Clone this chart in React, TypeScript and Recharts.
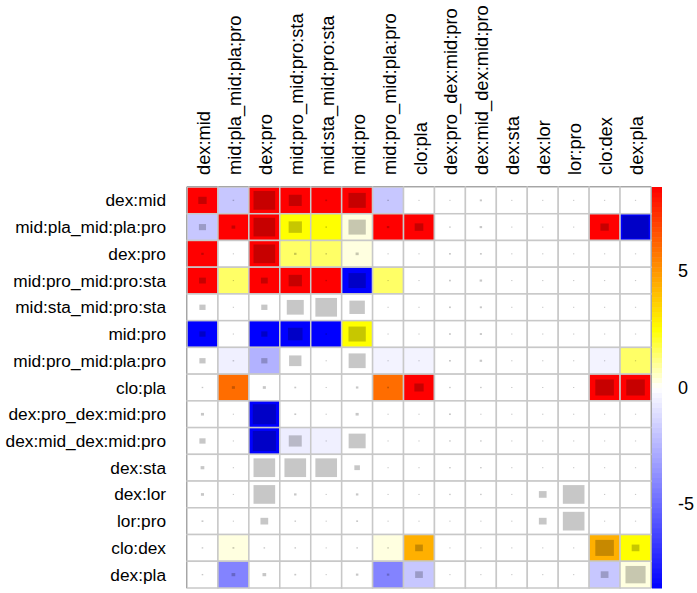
import React from 'react';
import { ScatterChart, Scatter, XAxis, YAxis } from 'recharts';

// row / column labels of the interaction matrix
const rowLabels = [
  'dex:mid', 'mid:pla_mid:pla:pro', 'dex:pro', 'mid:pro_mid:pro:sta', 'mid:sta_mid:pro:sta',
  'mid:pro', 'mid:pro_mid:pla:pro', 'clo:pla', 'dex:pro_dex:mid:pro', 'dex:mid_dex:mid:pro',
  'dex:sta', 'dex:lor', 'lor:pro', 'clo:dex', 'dex:pla',
];
const colLabels = rowLabels;

// effect per cell (colour), clipped at +/- 8.6
const cellValue: number[][] = [
  [9, -1.9, 9, 9, 9, 9, -1.9, 0, 0, 0, 0, 0, 0, 0, 0],
  [-1.9, 9, 9, 2.5, 2.5, 0.3, 9, 9, 0, 0, 0, 0, 0, 9, -9],
  [9, 0, 9, 1.5, 1.5, 0.3, 0, 0, 0, 0, 0, 0, 0, 0, 0],
  [9, 1.5, 9, 9, 9, -9, 1.5, 0, 0, 0, 0, 0, 0, 0, 0],
  [0, 0, 0, 0, 0, 0, 0, 0, 0, 0, 0, 0, 0, 0, 0],
  [-9, 0, -9, -9, -9, 2.5, 0, 0, 0, 0, 0, 0, 0, 0, 0],
  [0, -0.5, -2.6, 0, 0, 0, -0.4, -0.4, 0, 0, 0, 0, 0, -0.4, 1.5],
  [0, 6, 0, 0, 0, 0, 6, 9, 0, 0, 0, 0, 0, 9, 9],
  [0, 0, -9, 0, 0, 0, 0, 0, 0, 0, 0, 0, 0, 0, 0],
  [0, 0, -9, -0.6, -0.5, 0, 0, 0, 0, 0, 0, 0, 0, 0, 0],
  [0, 0, 0, 0, 0, 0, 0, 0, 0, 0, 0, 0, 0, 0, 0],
  [0, 0, 0, 0, 0, 0, 0, 0, 0, 0, 0, 0, 0, 0, 0],
  [0, 0, 0, 0, 0, 0, 0, 0, 0, 0, 0, 0, 0, 0, 0],
  [0, 0.3, 0, 0, 0, 0, 0.3, 4.4, 0, 0, 0, 0, 0, 4.4, 2.5],
  [0, -4.2, 0, 0, 0, 0, -4.2, -1.9, 0, 0, 0, 0, 0, -1.9, 0.3],
];

// relative size of the inner grey square
const cellSize: number[][] = [
  [0.27, 0.05, 0.7, 0.42, 0.06, 0.56, 0.05, 0.04, 0.04, 0.07, 0.04, 0.04, 0.04, 0.04, 0.04],
  [0.23, 0.12, 0.7, 0.43, 0.05, 0.56, 0.08, 0.28, 0.05, 0.08, 0.04, 0.04, 0.04, 0.27, 0.85],
  [0.08, 0.04, 0.7, 0.08, 0.05, 0.1, 0.04, 0.04, 0.06, 0.06, 0.04, 0.04, 0.04, 0.04, 0.04],
  [0.22, 0.04, 0.22, 0.43, 0.05, 0.56, 0.04, 0.04, 0.06, 0.08, 0.04, 0.04, 0.04, 0.04, 0.04],
  [0.2, 0.04, 0.2, 0.55, 0.7, 0.5, 0.04, 0.04, 0.06, 0.07, 0.04, 0.04, 0.04, 0.04, 0.04],
  [0.2, 0.04, 0.2, 0.47, 0.05, 0.56, 0.04, 0.04, 0.06, 0.07, 0.04, 0.04, 0.04, 0.04, 0.04],
  [0.2, 0.05, 0.2, 0.4, 0.04, 0.55, 0.04, 0.04, 0.06, 0.08, 0.04, 0.04, 0.04, 0.04, 0.04],
  [0.05, 0.1, 0.1, 0.06, 0.04, 0.08, 0.06, 0.3, 0.05, 0.05, 0.04, 0.04, 0.04, 0.6, 0.6],
  [0.1, 0.04, 0.75, 0.06, 0.04, 0.1, 0.04, 0.04, 0.06, 0.04, 0.04, 0.04, 0.04, 0.04, 0.04],
  [0.2, 0.04, 0.75, 0.42, 0.04, 0.55, 0.04, 0.04, 0.05, 0.05, 0.04, 0.04, 0.04, 0.04, 0.04],
  [0.12, 0.04, 0.7, 0.7, 0.7, 0.18, 0.04, 0.04, 0.05, 0.05, 0.04, 0.04, 0.04, 0.04, 0.04],
  [0.1, 0.04, 0.7, 0.08, 0.04, 0.08, 0.04, 0.04, 0.05, 0.05, 0.04, 0.25, 0.7, 0.04, 0.04],
  [0.06, 0.04, 0.25, 0.05, 0.04, 0.06, 0.04, 0.04, 0.04, 0.04, 0.04, 0.25, 0.7, 0.04, 0.04],
  [0.05, 0.06, 0.05, 0.05, 0.04, 0.05, 0.05, 0.25, 0.04, 0.04, 0.04, 0.04, 0.04, 0.6, 0.25],
  [0.05, 0.12, 0.12, 0.06, 0.04, 0.08, 0.08, 0.25, 0.04, 0.04, 0.04, 0.04, 0.04, 0.25, 0.65],
];

const colorTicks = [-5, 0, 5];
const VMAX = 8.62;

const W = 697;
const H = 593;
const PLOT = { left: 187, top: 187, right: 651, bottom: 588 };
const CW = (PLOT.right - PLOT.left) / 15;
const CH = (PLOT.bottom - PLOT.top) / 15;
const FONT = '"Liberation Sans", Arial, sans-serif';

const heatColor = (v: number) => {
  if (v >= 0) {
    if (v <= 2.5) {
      const t = v / 2.5;
      return `rgb(255,255,${Math.round(255 * (1 - t))})`;
    }
    const t = Math.min((v - 2.5) / (VMAX - 2.5), 1);
    return `rgb(255,${Math.round(255 * (1 - t))},0)`;
  }
  const t = Math.min(-v / VMAX, 1);
  const c = Math.round(255 * (1 - t));
  return `rgb(${c},${c},255)`;
};

const cells = rowLabels.flatMap((_, r) =>
  colLabels.map((__, c) => ({ x: c, y: r, v: cellValue[r][c], s: cellSize[r][c] }))
);

// invisible anchor points so the colour-bar axis is drawn
const barAnchors = colorTicks.map((t) => ({ x: 0, cb: t }));

const idx = rowLabels.map((_, i) => i);

const HeatCell = (props: any) => {
  const { cx, cy, payload } = props;
  if (cx == null || cy == null) return null;
  const w = CW * payload.s;
  const h = CH * payload.s;
  return (
    <g>
      <rect x={cx - CW / 2} y={cy - CH / 2} width={CW} height={CH}
        fill={heatColor(payload.v)} stroke="#c8c8c8" strokeWidth={1.5} />
      <rect x={cx - w / 2} y={cy - h / 2} width={w} height={h} fill="#000" fillOpacity={0.22} />
    </g>
  );
};

const RowTick = ({ y, payload }: any) => (
  <text x={166} y={y} textAnchor="end" dominantBaseline="central"
    fontFamily={FONT} fontSize={17.3} fill="#000">
    {rowLabels[payload.value]}
  </text>
);

const ColTick = ({ x, payload }: any) => (
  <text transform={`translate(${x + 1},175) rotate(-90)`} textAnchor="start" dominantBaseline="central"
    fontFamily={FONT} fontSize={18.3} fill="#000">
    {colLabels[payload.value]}
  </text>
);

const BarTick = ({ y, payload }: any) => (
  <text x={678} y={y} textAnchor="start" dominantBaseline="central"
    fontFamily={FONT} fontSize={18} fill="#000">
    {payload.value}
  </text>
);

const STEPS = 40;
const barSteps = Array.from({ length: STEPS * 2 }, (_, i) => {
  const lo = -VMAX + (i * VMAX) / STEPS;
  return { lo, hi: lo + VMAX / STEPS, mid: lo + VMAX / STEPS / 2 };
});

export default function App() {
  const yOf = (v: number) => PLOT.top + ((VMAX - v) / (2 * VMAX)) * (PLOT.bottom - PLOT.top);
  return (
    <div style={{ position: 'absolute', left: 0, top: 0, width: W, height: H, background: '#fff' }}>
      <ScatterChart width={W} height={H} margin={{ top: 7, right: 0, bottom: 5, left: 0 }}>
        <XAxis xAxisId="top" type="number" dataKey="x" orientation="top" domain={[-0.5, 14.5]}
          ticks={idx} tick={<ColTick />} tickLine={false} height={180} interval={0}
          axisLine={{ stroke: '#000', strokeWidth: 1.5 }} />
        <XAxis xAxisId="bottom" type="number" dataKey="x" orientation="bottom" domain={[-0.5, 14.5]}
          tick={false} tickLine={false} height={0} axisLine={{ stroke: '#000', strokeWidth: 1.5 }} />
        <YAxis yAxisId="rows" type="number" dataKey="y" domain={[-0.5, 14.5]} reversed
          ticks={idx} tick={<RowTick />} tickLine={false} width={187} interval={0}
          axisLine={{ stroke: '#000', strokeWidth: 1.5 }} />
        <YAxis yAxisId="cb" type="number" dataKey="cb" orientation="right" domain={[-VMAX, VMAX]}
          ticks={colorTicks} tick={<BarTick />} tickLine={false} width={46} interval={0}
          axisLine={{ stroke: '#000', strokeWidth: 1.5 }} />
        <Scatter data={cells} xAxisId="top" yAxisId="rows" shape={(p: any) => <HeatCell {...p} />}
          isAnimationActive={false} />
        <Scatter data={barAnchors} xAxisId="bottom" yAxisId="cb" dataKey="cb" shape={() => <g />}
          isAnimationActive={false} />
      </ScatterChart>
      <svg width={W} height={H} style={{ position: 'absolute', left: 0, top: 0, pointerEvents: 'none' }}>
        {barSteps.map((b, i) => (
          <rect key={i} x={652} y={yOf(b.hi)} width={10} height={yOf(b.lo) - yOf(b.hi) + 0.5}
            fill={heatColor(b.mid)} />
        ))}
      </svg>
    </div>
  );
}
